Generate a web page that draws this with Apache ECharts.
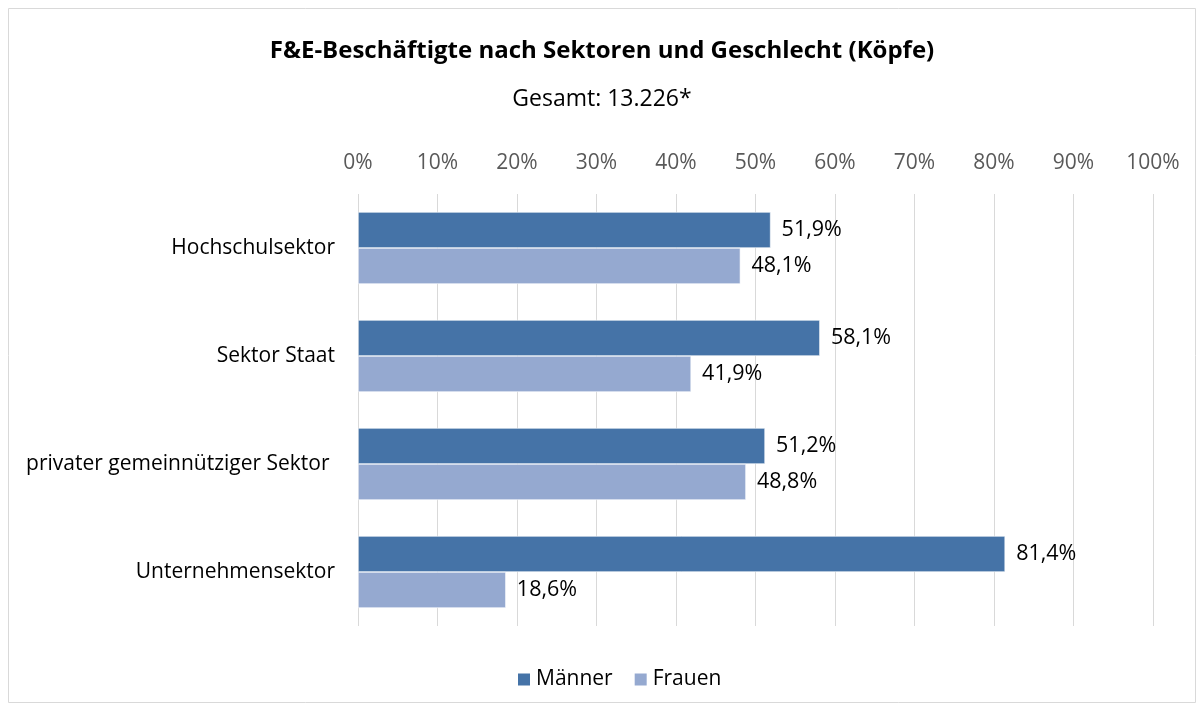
<!DOCTYPE html>
<html>
<head>
<meta charset="UTF-8">
<title>F&amp;E-Beschäftigte</title>
<script src="https://cdn.jsdelivr.net/npm/echarts@6/dist/echarts.min.js"></script>
<style>
  body { margin: 0; background: #fff; }
  #chart { width: 1204px; height: 711px; }
</style>
</head>
<body>
<div id="chart"></div>
<script>
var sektoren = ['Hochschulsektor', 'Sektor Staat', 'privater gemeinnütziger Sektor ', 'Unternehmensektor'];
var maenner = [51.9, 58.1, 51.2, 81.4];
var frauen = [48.1, 41.9, 48.8, 18.6];
var xTicks = [0, 10, 20, 30, 40, 50, 60, 70, 80, 90, 100];

var font = 'Open Sans, Noto Sans, sans-serif';

function pct(p) {
    return p.value.toFixed(1).replace('.', ',') + '%';
}

var chart = echarts.init(document.getElementById('chart'));
chart.setOption({
    animation: false,
    textStyle: { fontFamily: font },
    title: [{
        text: 'F&E-Beschäftigte nach Sektoren und Geschlecht (Köpfe)',
        left: 'center',
        top: 34,
        textStyle: { fontSize: 24, fontWeight: 'bold', color: '#000', fontFamily: font }
    }, {
        text: 'Gesamt: 13.226*',
        left: 'center',
        top: 83,
        textStyle: { fontSize: 23, fontWeight: 'normal', color: '#000', fontFamily: font }
    }],
    graphic: [{
        type: 'rect',
        shape: { x: 8.5, y: 8.5, width: 1187, height: 694 },
        style: { fill: 'none', stroke: '#d9d9d9', lineWidth: 1 },
        silent: true
    }],
    legend: {
        bottom: 16,
        left: 511,
        itemWidth: 14,
        itemHeight: 14,
        itemGap: 20,
        icon: 'rect',
        textStyle: { fontSize: 21, color: '#000', fontFamily: font },
        data: ['Männer', 'Frauen']
    },
    grid: { left: 358, right: 51, top: 194, bottom: 85 },
    xAxis: {
        type: 'value',
        position: 'top',
        min: xTicks[0],
        max: xTicks[xTicks.length - 1],
        interval: 10,
        axisLine: { show: false },
        axisTick: { show: false },
        axisLabel: { formatter: '{value}%', fontSize: 21, color: '#595959', margin: 20 },
        splitLine: { lineStyle: { color: '#d9d9d9', width: 1 } }
    },
    yAxis: {
        type: 'category',
        inverse: true,
        data: sektoren,
        axisLine: { show: false },
        axisTick: { show: false },
        axisLabel: { fontSize: 21, color: '#000', margin: 23 }
    },
    series: [{
        name: 'Männer',
        type: 'bar',
        data: maenner,
        barWidth: 36,
        barGap: '0%',
        itemStyle: { color: '#4573a7', borderColor: '#fff', borderWidth: 0.6 },
        label: { show: true, position: 'right', distance: 11, formatter: pct, fontSize: 21.5, color: '#000' }
    }, {
        name: 'Frauen',
        type: 'bar',
        data: frauen,
        barWidth: 36,
        itemStyle: { color: '#95a9d0', borderColor: '#fff', borderWidth: 0.6 },
        label: { show: true, position: 'right', distance: 11, formatter: pct, fontSize: 21.5, color: '#000' }
    }]
});
</script>
</body>
</html>
